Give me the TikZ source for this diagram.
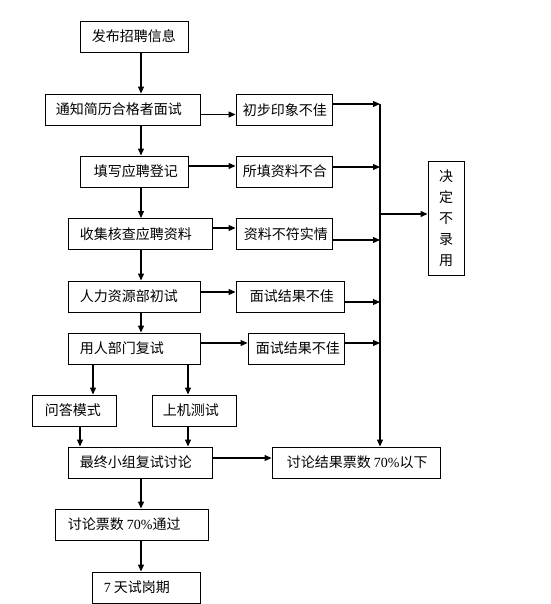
\documentclass[tikz,border=0pt]{standalone}
\usepackage{fontspec}
\setmainfont{Liberation Serif}
\newfontfamily\cjk{Noto Sans CJK SC}
\usetikzlibrary{arrows.meta}
\tikzset{
  bx/.style={draw, line width=0.9pt, minimum height=31, inner sep=0},
  tx/.style={inner sep=0, anchor=west, font=\fontsize{14}{16}\selectfont\cjk},
  arr/.style={line width=1.1pt, -{Triangle[length=7pt,width=6pt]}}
}
\newcommand\mybox[6]{%
  \node[bx, minimum width=#4] (#1) at (#2,#3) {};
  \node[tx] (#1t) at ([xshift=#5]#1.west) {#6};}
\begin{document}
\begin{tikzpicture}[x=1pt,y=-1pt]
\useasboundingbox (0,0) rectangle (550,604);
\mybox{n1}{134}{36.5}{108}{12}{发布招聘信息}
\mybox{n2}{122.5}{109.5}{155}{11}{通知简历合格者面试}
\mybox{r1}{284}{110}{96}{7}{初步印象不佳}
\mybox{n3}{134}{171.5}{108}{14}{填写应聘登记}
\mybox{r2}{284}{171.5}{96}{7}{所填资料不合}
\mybox{n4}{140}{234}{144}{12}{收集核查应聘资料}
\mybox{r3}{284}{234}{96}{8}{资料不符实情}
\mybox{n5}{134}{296.5}{132}{12}{人力资源部初试}
\mybox{r4}{290}{296.5}{108}{14}{面试结果不佳}
\mybox{n6}{134}{348.5}{132}{12}{用人部门复试}
\mybox{r5}{296}{348.5}{96}{8}{面试结果不佳}
\mybox{qa}{74}{410.5}{84}{13}{问答模式}
\mybox{sj}{194}{410.5}{84}{11}{上机测试}
\mybox{n7}{140}{462.5}{144}{12}{最终小组复试讨论}
\mybox{r6}{356}{462.5}{168}{15}{讨论结果票数 {\rmfamily 70\%}以下}
\mybox{n8}{131.5}{524.5}{153}{13}{讨论票数 {\rmfamily 70\%}通过}
\mybox{n9}{146}{587.5}{108}{12}{{\rmfamily 7} 天试岗期}
\node[bx, minimum width=36, minimum height=114, align=center,
      font=\fontsize{14}{21}\selectfont\cjk] (no) at (446,218) {决\\定\\不\\录\\用};
% helper coordinates
\coordinate (sp) at (141,0);
\coordinate (c93) at (93,0);
\coordinate (c80) at (80,0);
\coordinate (c188) at (188,0);
\coordinate (b1) at (380,104);
\coordinate (b2) at (380,167);
\coordinate (b3) at (380,240);
\coordinate (b4) at (380,302);
\coordinate (b5) at (380,343);
\coordinate (bm) at (380,214);
\coordinate (s1) at ([yshift=-5]n2.east);
\coordinate (s2) at ([yshift=5.5]n3.east);
\coordinate (s3) at ([yshift=6]n4.east);
\coordinate (s4) at ([yshift=4.5]n5.east);
\coordinate (s5) at ([yshift=5.5]n6.east);
\coordinate (s6) at ([yshift=4.5]n7.east);
% main flow
\draw[arr] (n1.south -| sp) -- (n2.north -| sp);
\draw[arr] (n2.south -| sp) -- (n3.north -| sp);
\draw[arr] (n3.south -| sp) -- (n4.north -| sp);
\draw[arr] (n4.south -| sp) -- (n5.north -| sp);
\draw[arr] (n5.south -| sp) -- (n6.north -| sp);
\draw[arr] (n6.south -| c93) -- (qa.north -| c93);
\draw[arr] (n6.south -| c188) -- (sj.north -| c188);
\draw[arr] (qa.south -| c80) -- (n7.north -| c80);
\draw[arr] (sj.south -| c188) -- (n7.north -| c188);
\draw[arr] (n7.south -| sp) -- (n8.north -| sp);
\draw[arr] (n8.south -| sp) -- (n9.north -| sp);
% side branches
\draw[arr] (s1) -- (s1 -| r1.west);
\draw[arr] (s2) -- (s2 -| r2.west);
\draw[arr] (s3) -- (s3 -| r3.west);
\draw[arr] (s4) -- (s4 -| r4.west);
\draw[arr] (s5) -- (s5 -| r5.west);
\draw[arr] (s6) -- (s6 -| r6.west);
% to bus
\draw[arr] (b1 -| r1.east) -- (b1);
\draw[arr] (b2 -| r2.east) -- (b2);
\draw[arr] (b3 -| r3.east) -- (b3);
\draw[arr] (b4 -| r4.east) -- (b4);
\draw[arr] (b5 -| r5.east) -- (b5);
\draw[arr] (b1) -- (b1 |- r6.north);
\draw[arr] (bm) -- (bm -| no.west);
\end{tikzpicture}
\end{document}
